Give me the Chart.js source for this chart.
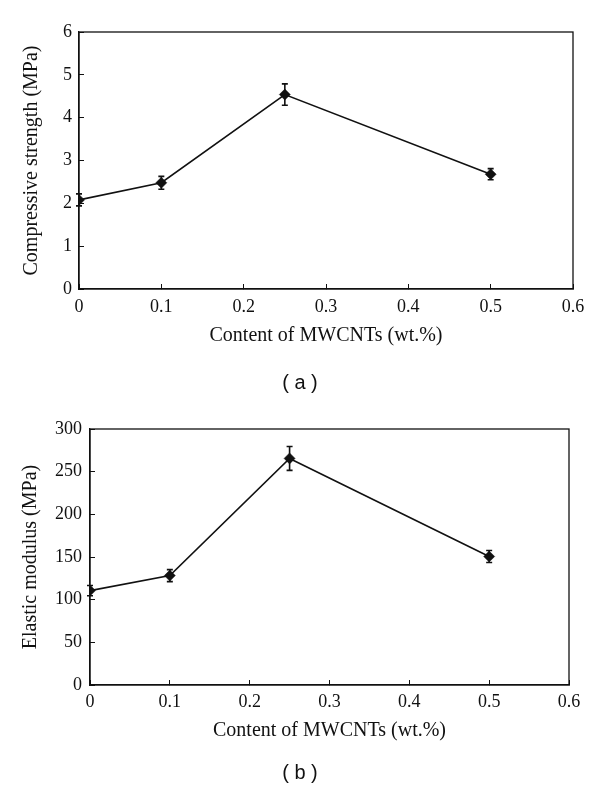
<!DOCTYPE html>
<html>
<head>
<meta charset="utf-8">
<script src="https://cdn.jsdelivr.net/npm/chart.js@4/dist/chart.umd.min.js"></script>
<style>
  body { margin: 0; background: #fff; width: 600px; height: 794px; position: relative; }
  .panel { position: absolute; left: 0; width: 600px; height: 397px; }
  .caption { position: absolute; left: 0; width: 600px; text-align: center; font: 20px "Liberation Sans", Arial, sans-serif; color: #111; }
</style>
</head>
<body>
<div class="panel" style="top:0"><canvas id="chartA"></canvas></div>
<div class="panel" style="top:397px"><canvas id="chartB"></canvas></div>
<div class="caption" style="top:371px">( a )</div>
<div class="caption" style="top:761px">( b )</div>
<script>
// content of MWCNTs (wt.%)
const contentX = [0, 0.1, 0.25, 0.5];
const strengthVals = [2.08, 2.48, 4.54, 2.68];
const strengthErr = [0.14, 0.15, 0.25, 0.13];
const modulusVals = [110.6, 128.2, 265.5, 150.6];
const modulusErr = [6, 7, 14, 7];

const xTicks = [0, 0.1, 0.2, 0.3, 0.4, 0.5, 0.6];
const xTickLabels = ['0', '0.1', '0.2', '0.3', '0.4', '0.5', '0.6'];
const strengthTicks = [0, 1, 2, 3, 4, 5, 6];
const modulusTicks = [0, 50, 100, 150, 200, 250, 300];

const ink = '#111';
const serif = 'Liberation Serif';

// box around the plot area
const framePlugin = {
    id: 'frame',
    afterDraw(chart) {
        const a = chart.chartArea;
        const c = chart.ctx;
        c.save();
        c.strokeStyle = ink;
        c.lineWidth = 1.3;
        c.strokeRect(a.left, a.top, a.right - a.left, a.bottom - a.top);
        c.restore();
    }
};

// vertical error bars with caps
const errorBarPlugin = {
    id: 'errorBars',
    beforeDatasetsDraw(chart, args, opts) {
        const c = chart.ctx;
        const xs = chart.scales.x, ys = chart.scales.y;
        const ds = chart.data.datasets[0];
        c.save();
        c.strokeStyle = ink;
        c.lineWidth = 1.6;
        ds.data.forEach((p, i) => {
            const e = opts.err[i];
            const px = xs.getPixelForValue(p.x);
            const top = ys.getPixelForValue(p.y + e);
            const bot = ys.getPixelForValue(p.y - e);
            c.beginPath();
            c.moveTo(px, top); c.lineTo(px, bot);
            c.moveTo(px - 3, top); c.lineTo(px + 3, top);
            c.moveTo(px - 3, bot); c.lineTo(px + 3, bot);
            c.stroke();
        });
        c.restore();
    }
};

function makeChart(id, vals, err, yTicks, yTitle, geo) {
    return new Chart(document.getElementById(id), {
        type: 'line',
        data: {
            datasets: [{
                data: contentX.map((x, i) => ({ x: x, y: vals[i] })),
                borderColor: ink,
                borderWidth: 1.6,
                backgroundColor: ink,
                pointStyle: 'rectRot',
                pointRadius: 5.5,
                pointBorderWidth: 0.5,
                pointBackgroundColor: ink,
                pointBorderColor: ink,
                tension: 0
            }]
        },
        plugins: [framePlugin, errorBarPlugin],
        options: {
            responsive: true,
            maintainAspectRatio: false,
            animation: false,
            layout: { padding: { left: 0, right: geo.right, top: 32, bottom: geo.bottom } },
            plugins: {
                legend: { display: false },
                tooltip: { enabled: false },
                errorBars: { err: err }
            },
            scales: {
                x: {
                    type: 'linear',
                    min: 0,
                    max: 0.6,
                    afterBuildTicks: (s) => { s.ticks = xTicks.map(v => ({ value: v })); },
                    afterFit: (s) => { s.height = 60; },
                    grid: { drawOnChartArea: false, drawTicks: true, tickLength: -5, color: ink, lineWidth: 1 },
                    border: { display: true, color: ink, width: 1.3 },
                    ticks: {
                        padding: geo.xPad,
                        color: ink,
                        maxRotation: 0,
                        font: { family: serif, size: 18 },
                        callback: (v, i) => xTickLabels[i]
                    },
                    title: {
                        display: true,
                        text: 'Content of MWCNTs (wt.%)',
                        color: ink,
                        font: { family: serif, size: 20 },
                        padding: { top: 0, bottom: geo.xTitlePad }
                    }
                },
                y: {
                    type: 'linear',
                    min: yTicks[0],
                    max: yTicks[yTicks.length - 1],
                    afterBuildTicks: (s) => { s.ticks = yTicks.map(v => ({ value: v })); },
                    afterFit: (s) => { s.width = geo.yWidth; },
                    grid: { drawOnChartArea: false, drawTicks: true, tickLength: -5, color: ink, lineWidth: 1 },
                    border: { display: true, color: ink, width: 1.3 },
                    ticks: {
                        padding: geo.yPad,
                        color: ink,
                        font: { family: serif, size: 18 },
                        callback: (v) => String(v)
                    },
                    title: {
                        display: true,
                        text: yTitle,
                        color: ink,
                        font: { family: serif, size: 20 },
                        padding: { top: geo.yTitlePad, bottom: 0 }
                    }
                }
            }
        }
    });
}

makeChart('chartA', strengthVals, strengthErr, strengthTicks, 'Compressive strength (MPa)',
    { right: 27, bottom: 48, yWidth: 79, xPad: 12, xTitlePad: 1, yPad: 12, yTitlePad: 20 });
makeChart('chartB', modulusVals, modulusErr, modulusTicks, 'Elastic modulus (MPa)',
    { right: 31, bottom: 49, yWidth: 90, xPad: 11, xTitlePad: 2, yPad: 13, yTitlePad: 19 });
</script>
</body>
</html>
